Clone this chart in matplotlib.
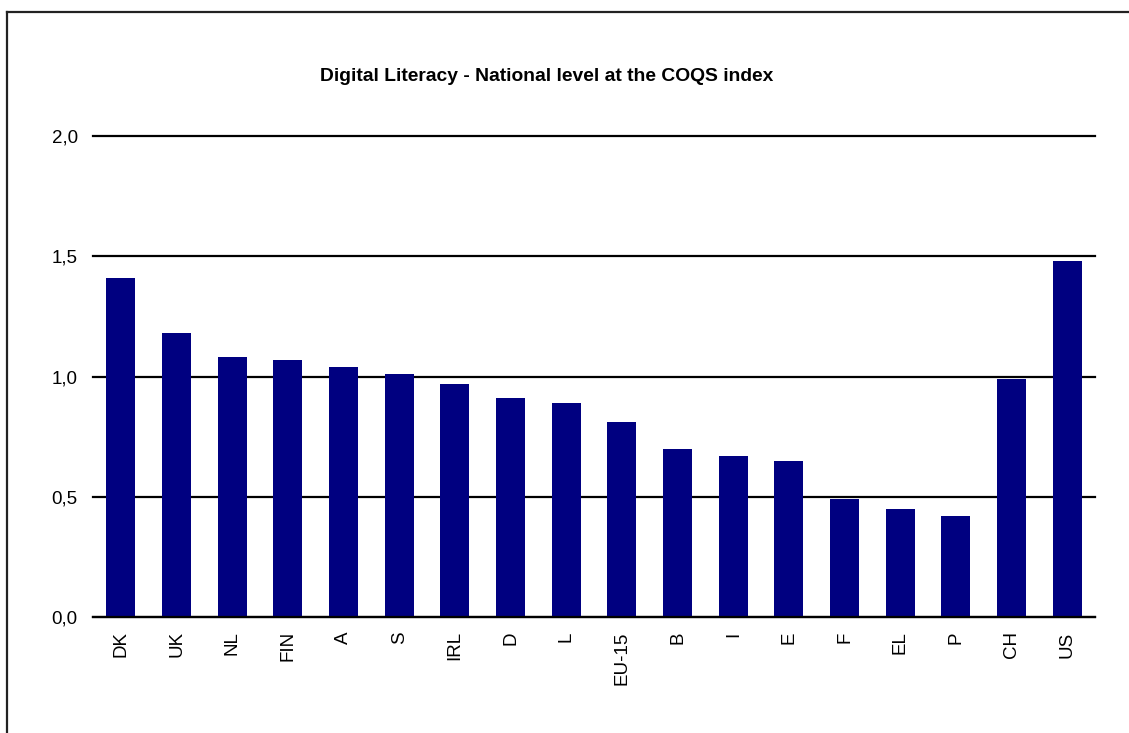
import matplotlib as mpl

mpl.use("Agg")

import matplotlib.pyplot as plt
import numpy as np
from matplotlib.lines import Line2D

countries = ["DK", "UK", "NL", "FIN", "A", "S", "IRL", "D", "L", "EU-15",
             "B", "I", "E", "F", "EL", "P", "CH", "US"]
scores = [1.41, 1.18, 1.08, 1.07, 1.04, 1.01, 0.97, 0.91, 0.89, 0.81,
          0.70, 0.67, 0.65, 0.49, 0.45, 0.42, 0.99, 1.48]
y_ticks = [0.0, 0.5, 1.0, 1.5, 2.0]
title = "Digital Literacy - National level at the COQS index"

plt.rcParams["font.family"] = ["Liberation Sans", "DejaVu Sans"]

fig = plt.figure(figsize=(11.29, 7.33), dpi=100, facecolor="white")
ax = fig.add_axes([0.0824, 0.1576, 0.8876, 0.6575])

x = np.arange(len(countries))
ax.bar(x, scores, width=0.52, color="#000080", zorder=3)

ax.set_xlim(-0.5, len(countries) - 0.5)
ax.set_ylim(0, 2.0)
ax.set_yticks(y_ticks, [f"{v:.1f}".replace(".", ",") for v in y_ticks])
ax.set_xticks(x, countries, rotation=90)
ax.tick_params(axis="both", length=0, labelsize=13.5)
ax.tick_params(axis="y", pad=11)
ax.tick_params(axis="x", pad=10)

# horizontal gridlines in black, drawn behind the bars
ax.yaxis.grid(True, color="black", linewidth=1.6, zorder=1)
for line in ax.get_ygridlines():
    line.set_clip_on(False)
ax.set_axisbelow(True)
for side in ("left", "right", "top"):
    ax.spines[side].set_visible(False)
ax.spines["bottom"].set_linewidth(1.6)
ax.spines["bottom"].set_zorder(4)

fig.text(0.484, 0.895, title, ha="center", va="center",
         fontsize=13.9, fontweight="bold")

# outer chart frame, running off the right and bottom edges
fig.add_artist(Line2D([0.0062, 0.0062], [0.0, 0.9835], color="#222222",
                      linewidth=1.6, transform=fig.transFigure))
fig.add_artist(Line2D([0.0062, 1.0], [0.9835, 0.9835], color="#222222",
                      linewidth=1.6, transform=fig.transFigure))

fig.savefig("out.png", dpi=100, facecolor="white")
